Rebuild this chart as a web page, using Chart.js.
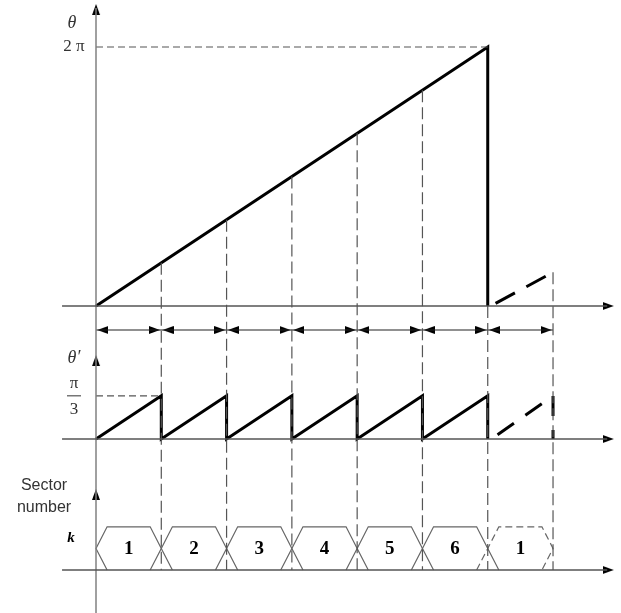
<!DOCTYPE html>
<html><head><meta charset="utf-8">
<script src="https://cdn.jsdelivr.net/npm/chart.js@4"></script>
<style>html,body{margin:0;padding:0;background:#fff;overflow:hidden}</style>
</head><body>
<canvas id="c" width="621" height="613" style="display:block"></canvas>
<script>
// ---------- data (x in units of pi/3, y in units of pi/3) ----------
const sectorBoundaries = [0, 1, 2, 3, 4, 5, 6, 7];
const sectorLabels = ['1', '2', '3', '4', '5', '6', '1'];
const thetaX = [0, 6, 6];
const thetaY = [0, 6, 0];
const thetaNextX = [6.12, 7];
const thetaNextY = [0.06, 0.78];
const thetaPrimeX = [0, 1, 1, 2, 2, 3, 3, 4, 4, 5, 5, 6, 6];
const thetaPrimeY = [0, 1, 0, 1, 0, 1, 0, 1, 0, 1, 0, 1, 0];
const thetaPrimeNextX = [6.15, 7, 7];
const thetaPrimeNextY = [0.1, 1, 0];
const guideTopY = [1, 2, 3, 4, 5, 0, 0.78];   // top of dashed guide at boundaries 1..7
const thetaMax = 6;      // 2π
const thetaPrimeMax = 1; // π/3
const sectorLevel = 1;   // k

// ---------- layout ----------
const PANEL_THETA = 0, PANEL_PRIME = -3.081, PANEL_SECTOR = -6.115, ARROW_ROW = -0.556;
const HEX_D = 0.17;
const AXIS_X0 = -0.52, AXIS_X1 = 7.93;

function arrowImage(len, wid, color) {
  const c = document.createElement('canvas');
  c.width = wid + 2; c.height = len * 2;
  const g = c.getContext('2d');
  g.fillStyle = color;
  g.beginPath();
  g.moveTo(c.width / 2, len);
  g.lineTo(c.width / 2 + wid / 2, len * 2);
  g.lineTo(c.width / 2 - wid / 2, len * 2);
  g.closePath(); g.fill();
  return c;
}
const arrowImg = arrowImage(11, 8, '#000');

const pts = (xs, ys, off) => xs.map((x, i) => ({x, y: ys[i] + off}));
const line = (data, o) => Object.assign({type: 'line', data, showLine: true, pointRadius: 0,
  borderColor: '#000', borderWidth: 1, fill: false, tension: 0}, o);

const ds = [];
// horizontal axes
[PANEL_THETA, PANEL_PRIME, PANEL_SECTOR].forEach(p => {
  ds.push(line([{x: AXIS_X0, y: p}, {x: AXIS_X1 - 0.1, y: p}], {borderColor: '#555', borderWidth: 1.5}));
});
// vertical axis
ds.push(line([{x: 0, y: -7.2}, {x: 0, y: 6.9}], {borderColor: '#808080', borderWidth: 1.5}));
// axis arrowheads
ds.push({type: 'scatter', data: [
  {x: AXIS_X1, y: PANEL_THETA}, {x: AXIS_X1, y: PANEL_PRIME}, {x: AXIS_X1, y: PANEL_SECTOR},
  {x: 0, y: 6.996}, {x: 0, y: PANEL_PRIME + 1.945}, {x: 0, y: PANEL_SECTOR + 1.876}],
  pointStyle: arrowImg, pointRotation: [90, 90, 90, 0, 0, 0], pointRadius: 6});
// dashed guides
ds.push(line([{x: 0, y: thetaMax}, {x: 6, y: thetaMax}], {borderColor: '#555', borderDash: [7, 4], borderWidth: 1.2}));
ds.push(line([{x: 0, y: PANEL_PRIME + thetaPrimeMax}, {x: 1, y: PANEL_PRIME + thetaPrimeMax}], {borderColor: '#555', borderDash: [7, 4], borderWidth: 1.2}));
sectorBoundaries.slice(1).forEach((b, i) => {
  ds.push(line([{x: b, y: guideTopY[i]}, {x: b, y: PANEL_SECTOR}], {borderColor: '#555', borderDash: [12, 5], borderWidth: 1.2}));
});
// theta ramp
ds.push(line(pts(thetaX, thetaY, PANEL_THETA), {borderWidth: 3}));
ds.push(line(pts(thetaNextX, thetaNextY, PANEL_THETA), {borderWidth: 3, borderDash: [22, 13]}));
// theta prime sawtooth
ds.push(line(pts(thetaPrimeX, thetaPrimeY, PANEL_PRIME), {borderWidth: 3}));
ds.push(line(pts(thetaPrimeNextX, thetaPrimeNextY, PANEL_PRIME), {borderWidth: 3, borderDash: [20, 14]}));
// arrow row
ds.push(line([{x: 0, y: ARROW_ROW}, {x: 7, y: ARROW_ROW}], {borderColor: '#222', borderWidth: 1.2}));
const arrowRowPts = [], arrowRowRot = [];
for (let i = 0; i < sectorBoundaries.length - 1; i++) {
  arrowRowPts.push({x: sectorBoundaries[i] + 0.02, y: ARROW_ROW}); arrowRowRot.push(-90);
  arrowRowPts.push({x: sectorBoundaries[i + 1] - 0.02, y: ARROW_ROW}); arrowRowRot.push(90);
}
ds.push({type: 'scatter', data: arrowRowPts, pointStyle: arrowImg, pointRotation: arrowRowRot, pointRadius: 6});
// sector hexagons
for (let i = 0; i < sectorLabels.length; i++) {
  const a = sectorBoundaries[i], b = sectorBoundaries[i + 1];
  const first = i === 0, last = i === sectorLabels.length - 1;
  const top = PANEL_SECTOR + sectorLevel, mid = PANEL_SECTOR + sectorLevel / 2, bot = PANEL_SECTOR;
  const p = [
    {x: first ? a + HEX_D : a - HEX_D, y: bot}, {x: a, y: mid}, {x: a + HEX_D, y: top},
    {x: b - HEX_D, y: top}, {x: b, y: mid}, {x: last ? b - HEX_D : b + HEX_D, y: bot}];
  ds.push(line(p, {borderColor: '#666', borderWidth: 1.2, borderDash: last ? [7, 4] : []}));
}

const textPlugin = {
  id: 'texts',
  afterDatasetsDraw(chart) {
    const {ctx, scales: {x, y}} = chart;
    const X = v => x.getPixelForValue(v), Y = v => y.getPixelForValue(v);
    ctx.save();
    ctx.fillStyle = '#000';
    ctx.textAlign = 'center'; ctx.textBaseline = 'middle';
    // sector labels
    ctx.font = 'bold 19px "Liberation Serif", "Times New Roman", serif';
    sectorLabels.forEach((s, i) => {
      ctx.fillText(s, X((sectorBoundaries[i] + sectorBoundaries[i + 1]) / 2), Y(PANEL_SECTOR + sectorLevel / 2) + 1);
    });
    const ax = X(0);
    ctx.font = 'italic 18px "Liberation Serif", serif';
    ctx.fillStyle = '#333';
    ctx.fillText('θ', ax - 24, Y(PANEL_THETA) - 283);
    ctx.fillText('θ′', ax - 22, Y(PANEL_PRIME) - 81);
    ctx.font = '17px "Liberation Serif", serif';
    ctx.fillText('2 π', ax - 22, Y(thetaMax));
    ctx.fillText('π', ax - 22, Y(PANEL_PRIME + thetaPrimeMax) - 12);
    ctx.fillText('3', ax - 22, Y(PANEL_PRIME + thetaPrimeMax) + 14);
    ctx.fillRect(ax - 29, Y(PANEL_PRIME + thetaPrimeMax) - 0.5, 14, 1);
    ctx.fillStyle = '#000';
    ctx.font = 'bold italic 15px "Liberation Serif", serif';
    ctx.fillText('k', ax - 25, Y(PANEL_SECTOR + sectorLevel) + 11);
    ctx.fillStyle = '#333';
    ctx.font = '16px "Liberation Sans", Arial, sans-serif';
    ctx.fillText('Sector', ax - 52, Y(PANEL_SECTOR) - 84);
    ctx.fillText('number', ax - 52, Y(PANEL_SECTOR) - 62);
    ctx.restore();
  }
};

new Chart(document.getElementById('c'), {
  type: 'scatter',
  data: {datasets: ds},
  options: {
    responsive: false, animation: false,
    layout: {padding: 0, autoPadding: false},
    scales: {
      x: {type: 'linear', display: false, min: -1.4704, max: 8.0411},
      y: {type: 'linear', display: false, min: -7.1114, max: 7.0882}
    },
    plugins: {legend: {display: false}, tooltip: {enabled: false}},
    elements: {line: {borderCapStyle: 'butt'}}
  },
  plugins: [textPlugin]
});
</script>
</body></html>
